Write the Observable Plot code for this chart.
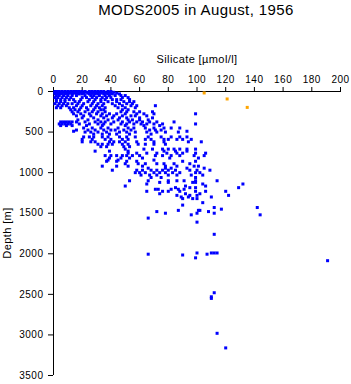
<!DOCTYPE html>
<html><head><meta charset="utf-8">
<script src="https://cdn.jsdelivr.net/npm/d3@7"></script>
<script src="https://cdn.jsdelivr.net/npm/@observablehq/plot@0.6"></script>
<style>
body{margin:0;background:#fff;}
#wrap{position:relative;width:351px;height:384px;font-family:"Liberation Sans",Arial,sans-serif;}
.lbl{position:absolute;white-space:nowrap;color:#000;}
#title{left:196px;top:1px;transform:translateX(-50%);font-size:15px;letter-spacing:0.4px;}
#xlab{left:197px;top:53px;transform:translateX(-50%);font-size:11px;letter-spacing:0.4px;}
#ylab{left:7px;top:233px;transform:translate(-50%,-50%) rotate(-90deg);font-size:11px;letter-spacing:0.4px;}
svg{position:absolute;left:0;top:0;}
</style></head>
<body><div id="wrap">
<div class="lbl" id="title">MODS2005 in August, 1956</div>
<div class="lbl" id="xlab">Silicate [µmol/l]</div>
<div class="lbl" id="ylab">Depth [m]</div>
</div>
<script>
// Each row: [depth (m), [silicate values (µmol/l)]]
const layer0to100 = [
  [0,  [1,2.5,4,6,8,10,12,14,16,18,20,22,25,27,29,31,33,35,38,40]],
  [10, [1,3,5,7,9,12,15,17,19,23,26,28,30,32,34,36,39,42]],
  [20, [2,4,6,9,11,14,16,21,24,27,30,33,37,40,44]],
  [30, [1,3,5,8,10,13,18,20,25,29,31,35,38,41,46]],
  [50, [2,4,7,10,13,16,22,26,28,32,36,39,43,47,50]],
  [75, [1,3,6,9,12,20,23,27,30,34,37,40,48,52]],
  [100,[2,5,8,11,14,19,25,29,33,36,41,44,47,53]]
];
const layer125to325 = [
  [125,[2,5,8,15,18,24,28,33,38,44,49,53,56]],
  [150,[1,4,7,10,13,17,21,27,31,35,41,46,51,55]],
  [175,[3,6,9,16,20,26,30,34,43,48,54,58,71]],
  [200,[2,5,11,14,19,23,29,32,36,45,50,57]],
  [225,[12,15,18,24,28,33,35,48,52]],
  [250,[13,17,22,27,31,36,47,51,56,60,69]],
  [275,[14,19,25,30,34,39,44,50,58,63,70,99]],
  [300,[16,21,26,33,37,42,48,54,57,65]],
  [325,[20,28,35,41,46,51,60,69]]
];
const layer350to525 = [
  [350,[17,24,31,38,45,52,55,60,66]],
  [375,[5,7,9,11,13,16,22,29,33,36,42,48,53,58,62,67,72,84]],
  [400,[4,6,8,10,12,18,25,31,35,40,47,51,56,61,65,70,76,99]],
  [420,[5,9,13,23,34,50,63,74]],
  [450,[21,27,33,38,45,52,56,64,70,77,82,88]],
  [475,[16,24,29,35,40,43,49,54,67,71,75]],
  [490,[14,93]],
  [500,[22,26,31,37,46,51,57,65,72,78,87]],
  [525,[28,34,39,44,53,68]]
];
const layer560to845 = [
  [560,[21,25,28,34,38,46,51,57,66,75,82,88,93]],
  [590,[20,27,36,40,48,52,64,68,77,80,86,90,96]],
  [620,[20,26,29,39,42,46,50,58,70,77,94,103]],
  [650,[31,34,38,41,48,52,59,64,70,78]],
  [680,[33,37,49,53]],
  [710,[50,63,69,76,80,84,88,93,99]],
  [735,[29,39,52,77,85,93]],
  [760,[52,58,65,72,79,86,90,99,106]],
  [790,[36,40,44,48,51,55,60,71,76,82,88,98,105]],
  [820,[39,47,53,62,81,101]],
  [845,[38,45,70]]
];
const layer860to1060 = [
  [860,[37,44,51,58,90,99]],
  [890,[50,59,64,72,77,84,95]],
  [920,[34,44,52,62,78,86,98,101]],
  [945,[66,78,82,93,105]],
  [970,[41,58,62,68,72,76,80,85,95,100,109]],
  [1000,[57,60,64,70,74,78,83,88,99,102]],
  [1030,[61,67,72,80,86,96,104]],
  [1060,[68,75,99]]
];
const layer1100to1760 = [
  [1100,[53,66,80,86,91,99,114]],
  [1120,[74,80,97,99]],
  [1140,[65,104,132]],
  [1165,[50,92,106]],
  [1185,[85,95,99,129]],
  [1205,[71,73,82,87,91]],
  [1230,[65,76,80,88,99,106,120]],
  [1260,[74,92,102]],
  [1280,[86,95,100,122]],
  [1300,[89,94,110]],
  [1320,[90,97,100]],
  [1370,[104]],
  [1400,[90]],
  [1430,[112,142]],
  [1450,[117]],
  [1465,[87,101,102]],
  [1480,[72,108]],
  [1500,[78,100,112]],
  [1520,[96,144]],
  [1560,[66]],
  [1610,[100]],
  [1760,[112]]
];
const layerDeep = [
  [1990,[100,110,112,114]],
  [2005,[66,107]],
  [2015,[90]],
  [2050,[99]],
  [2085,[191]],
  [2480,[112]],
  [2530,[110]],
  [2550,[110]],
  [2980,[114]],
  [3160,[120]]
];
// flagged (orange) samples: [silicate, depth]
const flagged = [[105,18],[121,92],[135,196]];

const xTicks = [0,20,40,60,80,100,120,140,160,180,200];
const yTicks = [0,500,1000,1500,2000,2500,3000,3500];

const rows = [...layer0to100,...layer125to325,...layer350to525,...layer560to845,...layer860to1060,...layer1100to1760,...layerDeep];
const samples = rows.flatMap(([d, ss]) => ss.map(s => ({s, d})));
const flags = flagged.map(([s, d]) => ({s, d}));

const chart = Plot.plot({
  width: 351,
  height: 384,
  marginTop: 91,
  marginBottom: 9,
  marginLeft: 53,
  marginRight: 11,
  style: {fontFamily: '"Liberation Sans", Arial, sans-serif', fontSize: "10px", background: "transparent", letterSpacing: "0.5px"},
  x: {domain: [0, 200]},
  y: {domain: [0, 3500], reverse: true},
  marks: [
    Plot.axisX({anchor: "top", ticks: xTicks, tickSize: 5, tickPadding: 4, label: null, tickFormat: d => String(d)}),
    Plot.axisY({anchor: "left", ticks: yTicks, tickSize: 5, tickPadding: 5, label: null, tickFormat: d => String(d)}),
    Plot.ruleY([0], {stroke: "#000"}),
    Plot.ruleX([0], {stroke: "#000"}),
    Plot.dot(samples, {x: "s", y: "d", symbol: "square", r: 1.7, fill: "#0000ff", stroke: null}),
    Plot.dot(flags, {x: "s", y: "d", symbol: "square", r: 1.7, fill: "#ffa500", stroke: null})
  ]
});
document.getElementById("wrap").appendChild(chart);
</script>
</body></html>
